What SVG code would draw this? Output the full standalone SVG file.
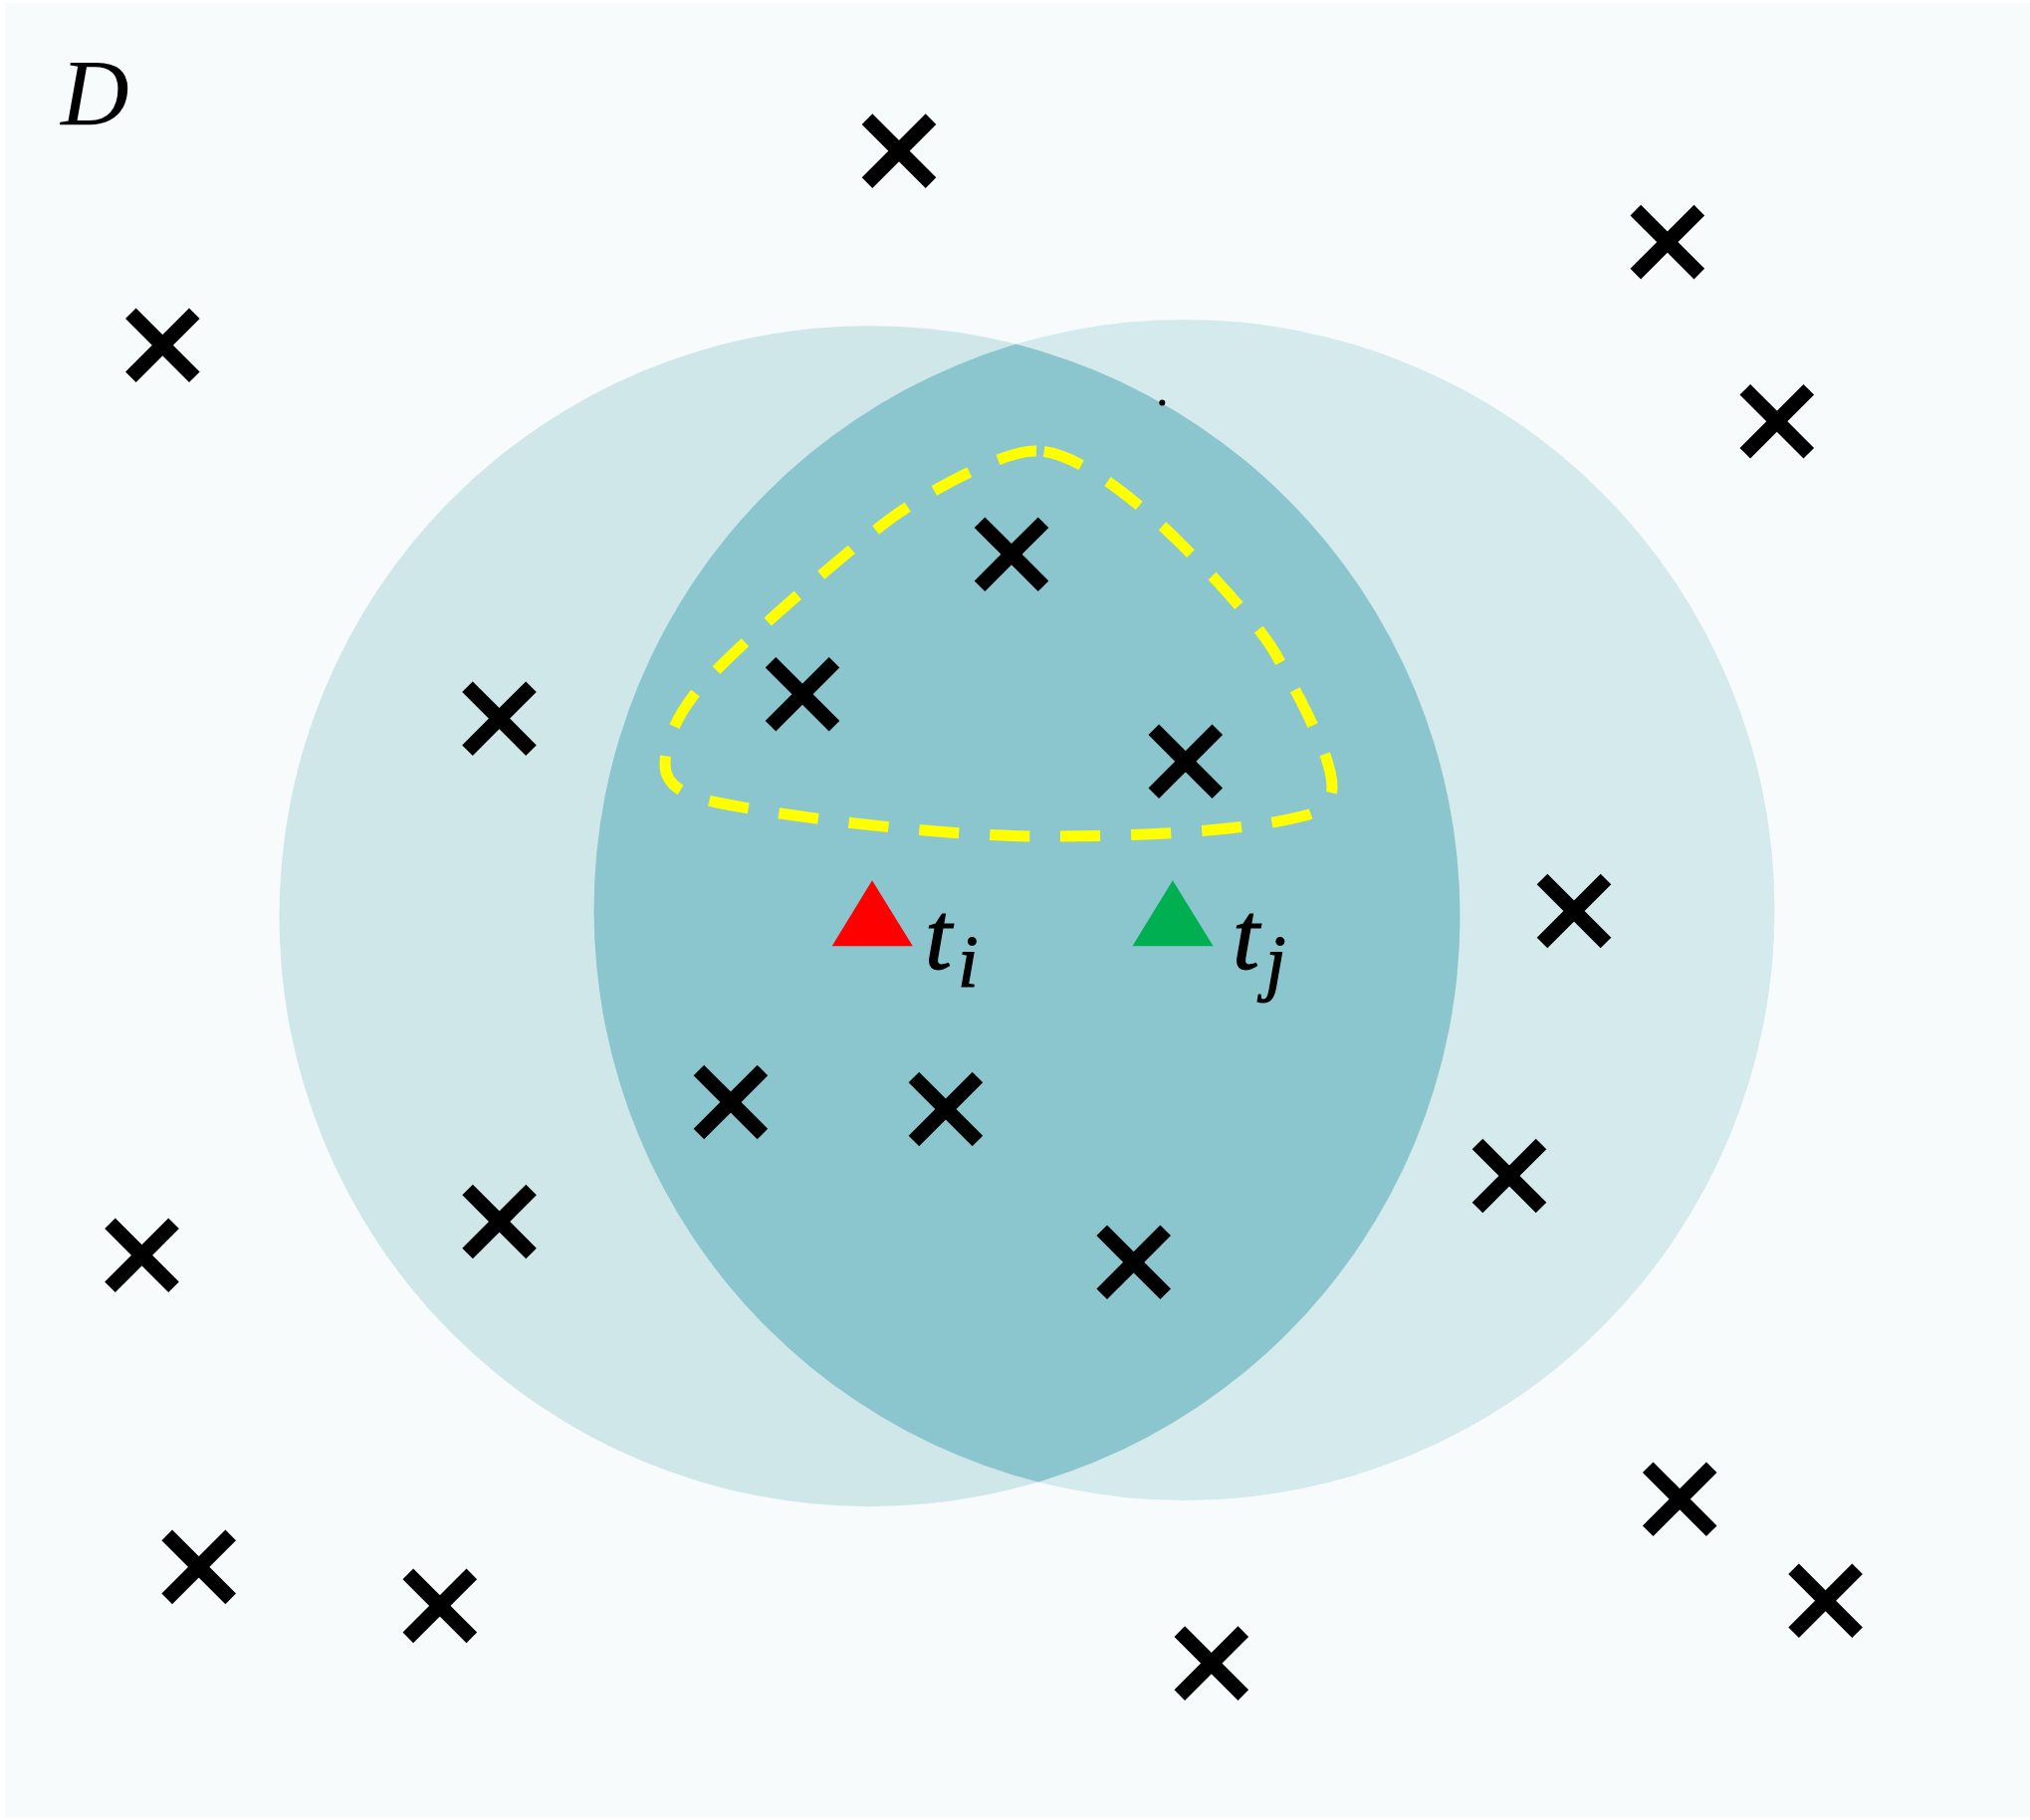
<svg xmlns="http://www.w3.org/2000/svg" width="2039" height="1828" viewBox="0 0 2039 1828">
<style>
.lbl{font-family:"Liberation Serif","DejaVu Serif",serif;font-style:italic;fill:#000}
.sub{stroke:#000;stroke-width:1.2}
</style>
<defs>
<clipPath id="clipL"><circle cx="873.5" cy="920.2" r="593"/></clipPath>
<g id="xm" stroke="#000" stroke-width="15" stroke-linecap="butt"><line x1="-32" y1="-32" x2="32" y2="32"/><line x1="-32" y1="32" x2="32" y2="-32"/></g>
</defs>
<rect x="0" y="0" width="2039" height="1828" fill="#ffffff"/>
<rect x="5" y="3" width="2034" height="1822" fill="#f7fbfc"/>
<g id="circles">
<circle id="circleLeft" cx="873.5" cy="920.2" r="593" fill="#d0e7ea"/>
<circle id="circleRight" cx="1189.5" cy="914" r="593" fill="#d4eaec"/>
<circle id="intersection" cx="1189.5" cy="914" r="593" fill="#8bc6ce" clip-path="url(#clipL)"/>
</g>
<g id="label-D"><text class="lbl" x="61" y="126" font-size="95">D</text></g>
<g id="boundary">
<path d="M1041,453 C1010,452 940,489 900,517 C860,545 724,662 697,698 C680,720 668,745 668,768 C668,790 690,800 720,806 C800,822 950,840 1046,840 C1140,840 1250,836 1315,818 C1330,813 1338,803 1338,790 C1338,760 1305,700 1282,658 C1268,632 1220,580 1190,550 C1165,525 1090,453 1041,453 Z" fill="none" stroke="#ffff00" stroke-width="11" stroke-dasharray="40 31"/>
</g>
<g id="points">
<use href="#xm" x="903" y="151.6"/>
<use href="#xm" x="1674.8" y="243.1"/>
<use href="#xm" x="163.3" y="346.8"/>
<use href="#xm" x="1784.8" y="423.2"/>
<use href="#xm" x="1016" y="556.7"/>
<use href="#xm" x="501.5" y="721.7"/>
<use href="#xm" x="806" y="697.2"/>
<use href="#xm" x="1190.8" y="764.8"/>
<use href="#xm" x="1581" y="915"/>
<use href="#xm" x="733.9" y="1107"/>
<use href="#xm" x="949.9" y="1114"/>
<use href="#xm" x="1516" y="1181"/>
<use href="#xm" x="501.6" y="1227"/>
<use href="#xm" x="142.5" y="1260.8"/>
<use href="#xm" x="1138.7" y="1267.8"/>
<use href="#xm" x="1687.2" y="1505.7"/>
<use href="#xm" x="199.7" y="1573.9"/>
<use href="#xm" x="441.8" y="1612.9"/>
<use href="#xm" x="1833.6" y="1607.7"/>
<use href="#xm" x="1216.8" y="1670.6"/>
</g>
<g id="dot"><circle cx="1167.3" cy="404.5" r="3" fill="#000"/></g>
<g id="node-ti">
<polygon points="876,884.3 835.7,950.3 916.8,950.3" fill="#ff0000"/>
<text class="lbl sub" x="929" y="973" font-size="97">t<tspan font-size="74" dx="6" dy="18">i</tspan></text>
</g>
<g id="node-tj">
<polygon points="1177.9,884.3 1137.5,950.3 1218.6,950.3" fill="#00b050"/>
<text class="lbl sub" x="1238" y="973" font-size="97">t<tspan font-size="74" dx="6" dy="18">j</tspan></text>
</g>
</svg>
